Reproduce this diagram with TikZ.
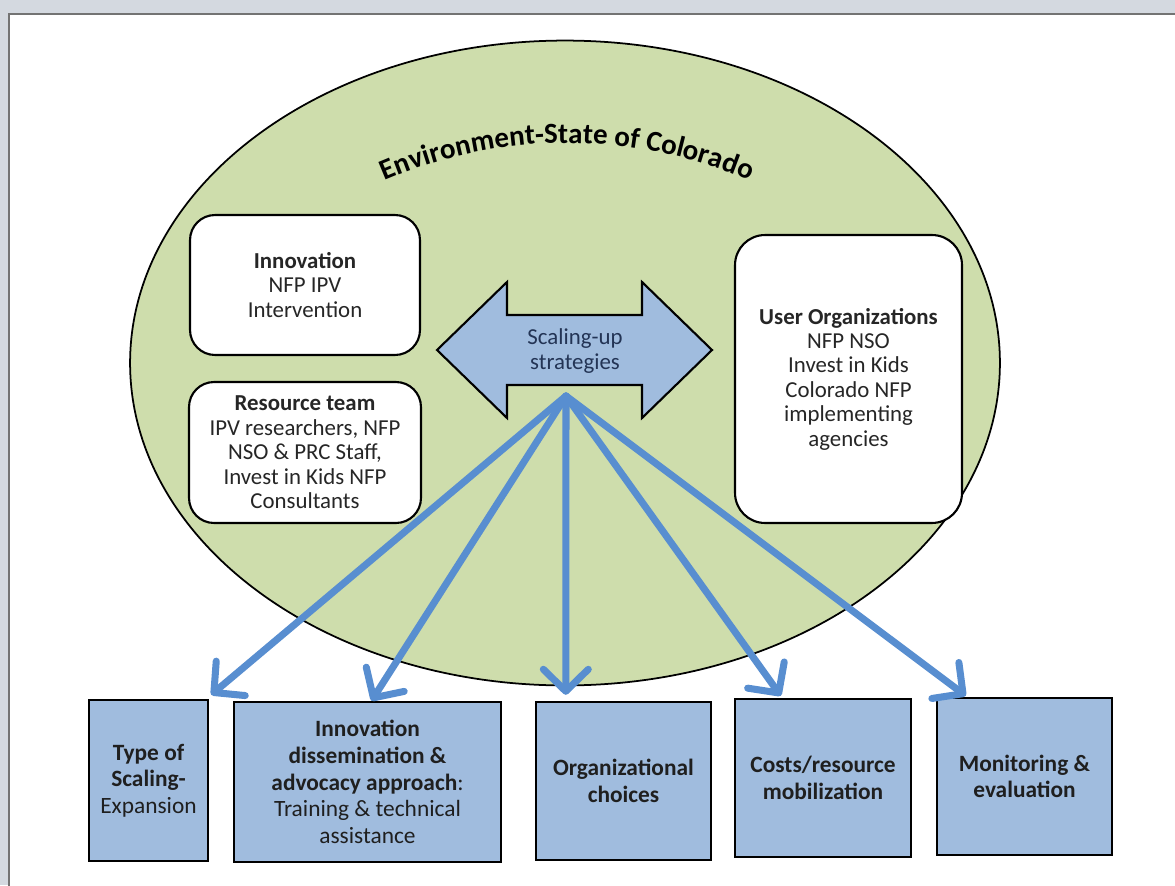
\documentclass[tikz,border=0pt]{standalone}
\usepackage{fontspec}
\setmainfont{Carlito}
\usetikzlibrary{arrows.meta,calc,decorations.text,shapes.geometric}
\definecolor{envgreen}{RGB}{206,221,172}
\definecolor{boxblue}{RGB}{160,188,222}
\definecolor{arrblue}{RGB}{88,142,208}
\definecolor{navytext}{RGB}{35,52,85}
\definecolor{framegray}{RGB}{212,217,224}
\definecolor{bodytext}{RGB}{38,38,38}
\tikzset{
  bodyfont/.style={font=\fontsize{13}{13.9}\selectfont},
  rbox/.style={draw=black, line width=1.2pt, fill=white, rounded corners=0.5cm, align=center, inner sep=0pt, bodyfont, text=bodytext},
  bbox/.style={draw=black, line width=1.4pt, fill=boxblue, align=center, inner sep=0pt, font=\fontsize{13.3}{15.2}\selectfont, text=black!88},
  spread/.style={draw=arrblue, line width=4pt, line cap=round, -{Straight Barb[length=0.44cm,width=0.9cm,round]}},
}
\begin{document}
\begin{tikzpicture}[x=0.02cm,y=-0.02cm]
\useasboundingbox (0,0) rectangle (1175,885);
\clip (0,0) rectangle (1175,885);
\fill[framegray] (0,0) rectangle (1175,885);
\draw[fill=white, draw=black!55, line width=0.6pt] (9,14) rectangle (1185,895);

% environment ellipse
\node[ellipse, draw=black, line width=1pt, fill=envgreen, minimum width=17.4cm, minimum height=12.9cm, inner sep=0pt] (env) at (565,363) {};

% curved title
\coordinate (tc) at (567,603);
\path[decorate, decoration={text along path, text align=center,
  text={|\fontsize{16.5}{19}\selectfont\bfseries|Environment-State of Colorado}}]
  ($(tc)+(120:9.2cm)$) arc[start angle=120, end angle=60, radius=9.2cm];

% inner boxes
\node[rbox, minimum width=4.6cm, minimum height=2.8cm] (innov) at (305,285)
  {\textbf{Innovation}\\NFP IPV\\Intervention};
\node[rbox, minimum width=4.64cm, minimum height=2.82cm] (res) at (305,452.5)
  {\textbf{Resource team}\\IPV researchers, NFP\\NSO \& PRC Staff,\\Invest in Kids NFP\\Consultants};
\node[rbox, rounded corners=0.6cm, minimum width=4.54cm, minimum height=5.76cm] (user) at (848.5,379)
  {\textbf{User Organizations}\\NFP NSO\\Invest in Kids\\Colorado NFP\\implementing\\agencies};

% double arrow
\draw[fill=boxblue, draw=black, line width=1.2pt, line join=miter]
  (437,350) -- (507,282) -- (507,315) -- (642,315) -- (642,282) -- (712,350)
  -- (642,418) -- (642,385) -- (507,385) -- (507,418) -- cycle;
\node[bodyfont, text=navytext, align=center] (su) at (575,351) {Scaling-up\\strategies};

% bottom boxes
\node[bbox, minimum width=2.38cm, minimum height=3.22cm] (b1) at (148.5,780.5)
  {\textbf{Type of}\\\textbf{Scaling-}\\Expansion};
\node[bbox, minimum width=5.34cm, minimum height=3.2cm] (b2) at (367.5,782)
  {\textbf{Innovation}\\\textbf{dissemination \&}\\\textbf{advocacy approach}:\\Training \& technical\\assistance};
\node[bbox, minimum width=3.5cm, minimum height=3.16cm] (b3) at (623.5,781)
  {\textbf{Organizational}\\\textbf{choices}};
\node[bbox, minimum width=3.52cm, minimum height=3.16cm] (b4) at (823,778)
  {\textbf{Costs/resource}\\\textbf{mobilization}};
\node[bbox, minimum width=3.5cm, minimum height=3.14cm] (b5) at (1024.5,776.5)
  {\textbf{Monitoring \&}\\\textbf{evaluation}};

% spreading arrows
\coordinate (o) at (566,396);
\draw[spread] (o) -- ([xshift=0.04cm,yshift=0.08cm]b1.north east);
\draw[spread] (o) -- ([xshift=0.08cm]b2.north);
\draw[spread] (o) -- ([xshift=0.62cm,yshift=0.12cm]b3.north west);
\draw[spread] (o) -- ([xshift=0.94cm,yshift=0.04cm]b4.north west);
\draw[spread] (o) -- ([xshift=0.6cm,yshift=0.02cm]b5.north west);
\end{tikzpicture}
\end{document}
